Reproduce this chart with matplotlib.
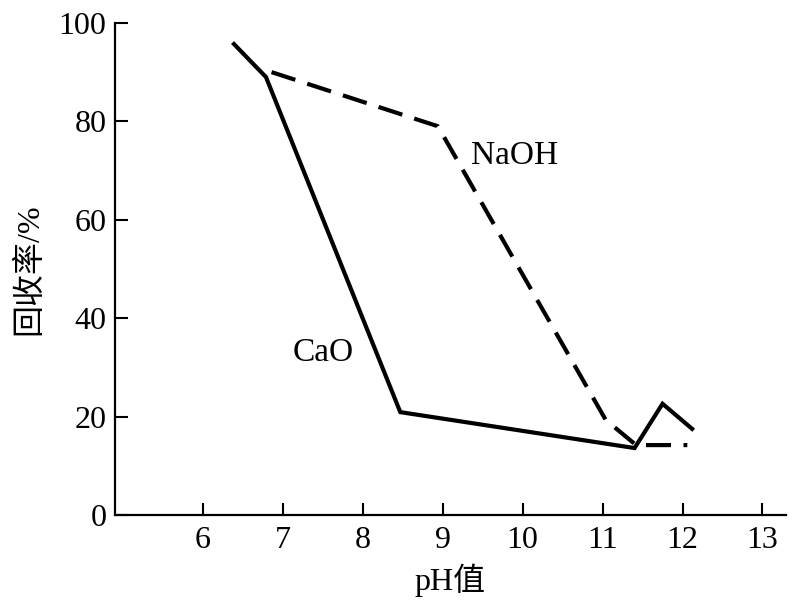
import matplotlib
matplotlib.use("Agg")
import matplotlib.pyplot as plt

# Data
cao_ph = [6.39, 6.79, 8.47, 11.40, 11.75, 12.12]
cao_rec = [95.7, 89.0, 20.9, 13.6, 22.6, 17.5]
naoh_ph = [6.86, 8.94, 11.04, 11.42, 12.06]
naoh_rec = [90.0, 79.0, 19.3, 14.2, 14.2]
xticks = [6, 7, 8, 9, 10, 11, 12, 13]
yticks = [0, 20, 40, 60, 80, 100]

fam = ['Liberation Serif', 'Noto Sans CJK SC']
plt.rcParams['font.family'] = fam

fig = plt.figure(figsize=(7.92, 6.03), dpi=100)
ax = fig.add_axes([0.145, 0.146, 0.847, 0.816])

ax.plot(cao_ph, cao_rec, color='black', lw=3.0, solid_joinstyle='miter')
ax.plot(naoh_ph, naoh_rec, color='black', lw=3.0, dashes=(6, 3.0))

ax.text(7.5, 33, 'CaO', fontsize=24, ha='center', va='center')
ax.text(9.9, 73, 'NaOH', fontsize=24, ha='center', va='center')

ax.set_xlim(4.9, 13.29)
ax.set_ylim(0, 100)
ax.set_xticks(xticks)
ax.set_yticks(yticks)
ax.tick_params(direction='in', length=9, width=1.5, labelsize=23)
ax.tick_params(axis='x', pad=8)
ax.tick_params(axis='y', pad=6)
for s in ['top', 'right']:
    ax.spines[s].set_visible(False)
for s in ['left', 'bottom']:
    ax.spines[s].set_linewidth(1.6)

ax.set_xlabel('pH值', fontsize=23, labelpad=6)
ax.set_ylabel('回收率/%', fontsize=23, labelpad=10)

fig.savefig('out.png', dpi=100)
